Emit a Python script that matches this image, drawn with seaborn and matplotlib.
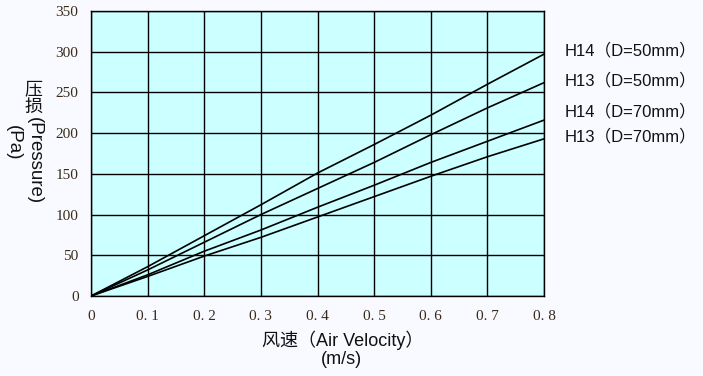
import pandas as pd
import seaborn as sns
import matplotlib.pyplot as plt

# Data
velocity = [0, 0.1, 0.2, 0.3, 0.4, 0.5, 0.6, 0.7, 0.8]
h14_d50 = [0, 36, 74, 112, 151, 186, 222, 260, 297]
h13_d50 = [0, 32, 66, 100, 132, 164, 198, 231, 262]
h14_d70 = [0, 26, 55, 81, 109, 136, 164, 190, 216]
h13_d70 = [0, 24, 49, 72, 97, 122, 147, 171, 193]
series_names = ['H14（D=50mm）', 'H13（D=50mm）', 'H14（D=70mm）', 'H13（D=70mm）']
label_y = [301, 265, 227, 196]

x_ticks = [0, 0.1, 0.2, 0.3, 0.4, 0.5, 0.6, 0.7, 0.8]
x_tick_labels = ['0', '0. 1', '0. 2', '0. 3', '0. 4', '0. 5', '0. 6', '0. 7', '0. 8']
y_ticks = [0, 50, 100, 150, 200, 250, 300, 350]

W, H = 703, 376


def px(x, y):
    # pixel position (from top-left) -> figure fraction
    return x / W, 1 - y / H


def main():
    df = pd.DataFrame({
        'v': velocity * 4,
        'p': h14_d50 + h13_d50 + h14_d70 + h13_d70,
        'series': [n for n in series_names for _ in velocity],
    })

    sns.set_theme(style='white')
    plt.rcParams['font.family'] = ['Liberation Sans', 'Noto Sans CJK SC', 'DejaVu Sans']

    fig = plt.figure(figsize=(W / 100, H / 100), dpi=100, facecolor='#f8faff')
    ax = fig.add_axes([91 / W, 80 / H, 453 / W, 285 / H])
    ax.set_facecolor('#ccffff')

    sns.lineplot(data=df, x='v', y='p', hue='series', palette=['black'] * 4,
                 linewidth=1.2, legend=False, ax=ax, zorder=3)

    ax.set_xlim(0, 0.8)
    ax.set_ylim(0, 350)
    ax.set_xticks(x_ticks)
    ax.set_xticklabels(x_tick_labels)
    ax.set_yticks(y_ticks)
    ax.grid(True, color='black', linewidth=1.0)
    ax.set_axisbelow(True)
    for s in ax.spines.values():
        s.set_color('black')
        s.set_linewidth(1.0)
        s.set_visible(True)

    ax.tick_params(length=0, labelsize=11, labelcolor='#3a2a1a')
    ax.tick_params(axis='x', pad=10)
    ax.tick_params(axis='y', pad=9)
    for lab in ax.get_xticklabels() + ax.get_yticklabels():
        lab.set_family('Liberation Serif')
    ax.set_xlabel('')
    ax.set_ylabel('')

    tc = '#111111'
    # x axis title
    fig.text(*px(343, 331), '风速（Air Velocity）', fontsize=13, color=tc,
             ha='center', va='top')
    fig.text(*px(341, 351), '(m/s)', fontsize=13, color=tc,
             ha='center', va='top')

    # y axis title: CJK upright, latin rotated (vertical writing)
    fig.text(*px(33, 90), '压', fontsize=13, color=tc, ha='center', va='center')
    fig.text(*px(33, 107), '损', fontsize=13, color=tc, ha='center', va='center')
    fig.text(*px(34, 117), '(Pressure)', fontsize=13.5, color=tc, rotation=270,
             ha='center', va='top')
    fig.text(*px(13, 125), '(Pa)', fontsize=13.5, color=tc, rotation=270,
             ha='center', va='top')

    for name, y in zip(series_names, label_y):
        ax.text(0.837, y, name, fontsize=12, color=tc, va='center',
                ha='left', clip_on=False)

    fig.savefig('out.png', dpi=100, facecolor=fig.get_facecolor())


if __name__ == "__main__":
    main()
